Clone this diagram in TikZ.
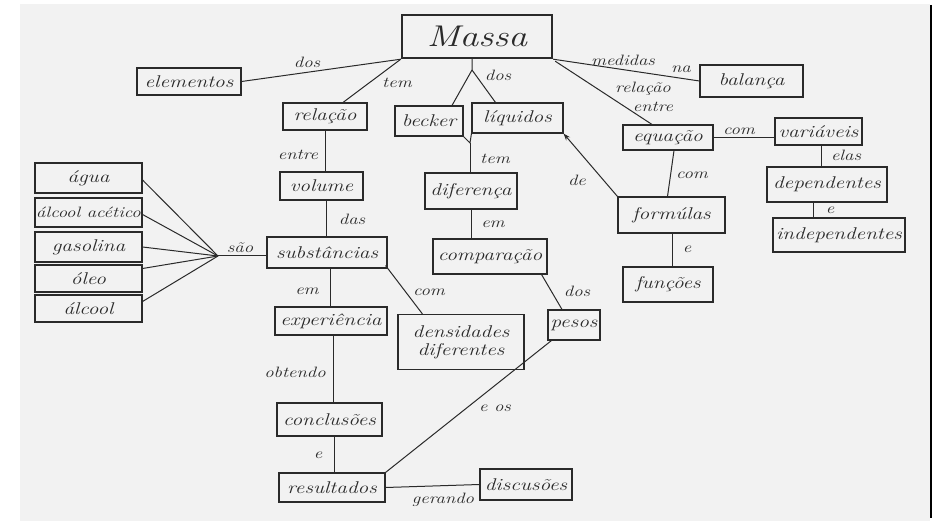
\documentclass[tikz,border=0pt]{standalone}
\usepackage{fontspec}
\setmainfont{Latin Modern Roman}
\newfontfamily\hand{Latin Modern Roman}[FakeStretch=1.25]
\usetikzlibrary{calc,arrows.meta}
\definecolor{ink}{HTML}{2A2A2A}
\definecolor{paper}{HTML}{F2F2F2}

\begin{document}
\begin{tikzpicture}[x=1pt,y=-1pt,
  concept/.style={draw=ink, line width=1.1pt, inner sep=1pt, text=ink, align=center,
    font=\hand\itshape\fontsize{17}{18}\selectfont},
  link/.style={draw=ink, line width=1pt},
  lbl/.style={font=\hand\itshape\fontsize{15}{16}\selectfont, text=ink, inner sep=0pt}]

\useasboundingbox (0,0) rectangle (939,521);
\fill[white] (0,0) rectangle (939,521);
\fill[paper] (20,4) rectangle (930,521);
\draw[black, line width=2.5pt] (931,5) -- (931,518);

% concepts
\node[concept, line width=2.4pt, minimum width=150pt, minimum height=43pt,
  font=\hand\itshape\fontsize{30}{32}\selectfont] (massa) at (477,36.5) {Massa};
\node[concept, minimum width=104pt, minimum height=27pt] (elementos) at (189,81.5) {elementos};
\node[concept, minimum width=84pt, minimum height=27pt] (relacao) at (325,116.5) {relação};
\node[concept, minimum width=68pt, minimum height=30pt] (becker) at (429,121) {becker};
\node[concept, minimum width=91pt, minimum height=30pt] (liquidos) at (517.5,118) {líquidos};
\node[concept, minimum width=103pt, minimum height=32pt] (balanca) at (751.5,81) {balança};
\node[concept, minimum width=90pt, minimum height=25pt] (equacao) at (668,137.5) {equação};
\node[concept, minimum width=87pt, minimum height=27pt] (variaveis) at (818.5,131.5) {variáveis};
\node[concept, minimum width=120pt, minimum height=35pt] (dependentes) at (827,184.5) {dependentes};
\node[concept, minimum width=132pt, minimum height=34pt] (independentes) at (839,235) {independentes};
\node[concept, minimum width=107pt, minimum height=36pt] (formulas) at (671.5,215) {formúlas};
\node[concept, minimum width=90pt, minimum height=35pt] (funcoes) at (668,284.5) {funções};
\node[concept, minimum width=92pt, minimum height=36pt] (diferenca) at (471,191) {diferença};
\node[concept, minimum width=114pt, minimum height=35pt] (comparacao) at (490,256.5) {comparação};
\node[concept, minimum width=126pt, minimum height=55pt] (densidades) at (461,342) {densidades\\diferentes};
\node[concept, minimum width=52pt, minimum height=30pt] (pesos) at (574,325) {pesos};
\node[concept, minimum width=83pt, minimum height=28pt] (volume) at (321.5,186) {volume};
\node[concept, minimum width=120pt, minimum height=31pt] (substancias) at (327,252.5) {substâncias};
\node[concept, minimum width=112pt, minimum height=28pt] (experiencia) at (331,321) {experiência};
\node[concept, minimum width=107pt, minimum height=30pt] (agua) at (88.5,178) {água};
\node[concept, minimum width=107pt, minimum height=29pt,
  font=\hand\itshape\fontsize{15}{16}\selectfont] (acetico) at (88.5,212.5) {álcool acético};
\node[concept, minimum width=107pt, minimum height=30pt] (gasolina) at (88.5,247) {gasolina};
\node[concept, minimum width=107pt, minimum height=27pt] (oleo) at (88.5,278.5) {óleo};
\node[concept, minimum width=107pt, minimum height=27pt] (alcool) at (88.5,308.5) {álcool};
\node[concept, minimum width=105pt, minimum height=33pt] (conclusoes) at (329.5,419.5) {conclusões};
\node[concept, minimum width=106pt, minimum height=29pt] (resultados) at (332,487.5) {resultados};
\node[concept, minimum width=92pt, minimum height=31pt] (discusoes) at (526,484.5) {discusões};

% branch points and connector anchors
\coordinate (forkA) at (472,70);
\coordinate (forkB) at (470,143);
\coordinate (hub) at (218,256);
\path ($(variaveis.south)+(3,0)$) coordinate (vdTop);
\path ($(dependentes.south)+(-14,0)$) coordinate (diTop);
\path ($(formulas.south)+(1,0)$) coordinate (ffTop);
\path ($(volume.south)+(5,0)$) coordinate (vsTop);
\path ($(substancias.south)+(3,0)$) coordinate (seTop);
\path ($(experiencia.south)+(2,0)$) coordinate (ecTop);
\path ($(conclusoes.south)+(5,0)$) coordinate (crTop);

% connectors
\draw[link] (massa.south west) -- (elementos.east);
\draw[link] (massa.south west) -- ($(relacao.north)+(18,0)$);
\draw[link] (massa.south -| forkA) -- (forkA) -- ($(becker.north)+(23,0)$);
\draw[link] (forkA) -- ($(liquidos.north)+(-22,0)$);
\draw[link] (massa.south east) -- (balanca.west);
\draw[link] ($(massa.south east)+(2,2)$) -- ($(equacao.north)+(-16,0)$);
\draw[link] (equacao.east) -- (equacao.east -| variaveis.west);
\draw[link] (vdTop) -- (vdTop |- dependentes.north);
\draw[link] (diTop) -- (diTop |- independentes.north);
\draw[link] ($(equacao.south)+(6,0)$) -- ($(formulas.north)+(-4,0)$);
\draw[link] (ffTop) -- (ffTop |- funcoes.north);
\draw[link, -{Stealth[length=7pt,width=5pt]}] (formulas.north west) -- (liquidos.south east);
\draw[link] (becker.south east) -- (forkB) -- (liquidos.south west);
\draw[link] (forkB) -- (forkB |- diferenca.north);
\draw[link] (diferenca.south) -- (diferenca.south |- comparacao.north);
\draw[link] ($(comparacao.south east)+(-6,0)$) -- ($(pesos.north)+(-12,0)$);
\draw[link] ($(pesos.south west)+(4,0)$) -- (resultados.north east);
\draw[link] (relacao.south) -- (relacao.south |- volume.north);
\draw[link] (vsTop) -- (vsTop |- substancias.north);
\draw[link] (seTop) -- (seTop |- experiencia.north);
\draw[link] ($(substancias.south east)+(-2,-3)$) -- ($(densidades.north west)+(25,0)$);
\draw[link] (ecTop) -- (ecTop |- conclusoes.north);
\draw[link] (crTop) -- (crTop |- resultados.north);
\draw[link] (resultados.east) -- (discusoes.west);
\draw[link] ($(agua.east)+(0,2)$) -- (hub);
\draw[link] ($(acetico.east)+(0,2)$) -- (hub);
\draw[link] (gasolina.east) -- (hub);
\draw[link] ($(oleo.east)+(0,-10)$) -- (hub);
\draw[link] ($(alcool.east)+(0,-7)$) -- (hub);
\draw[link] (hub) -- (hub -| substancias.west);

% linking words
\node[lbl] (l1) at (307,62) {dos};
\node[lbl] (l2) at (397,83) {tem};
\node[lbl] (l3) at (498,75) {dos};
\node[lbl] (l4) at (623,60) {medidas};
\node[lbl] (l5) at (681,69) {na};
\node[lbl] (l6) at (643,89) {relação};
\node[lbl] (l7) at (653,107) {entre};
\node[lbl] (l8) at (739,131) {com};
\node[lbl] (l9) at (846,155) {elas};
\node[lbl] (l10) at (692,175) {com};
\node[lbl] (l11) at (687,249) {e};
\node[lbl] (l12) at (830,210) {e};
\node[lbl] (l13) at (577,180) {de};
\node[lbl] (l14) at (495,159) {tem};
\node[lbl] (l15) at (493,224) {em};
\node[lbl] (l16) at (577,291) {dos};
\node[lbl] (l17) at (429,292) {com};
\node[lbl] (l18) at (495,408) {e os};
\node[lbl] (l19) at (298,155) {entre};
\node[lbl] (l20) at (352,219) {das};
\node[lbl] (l21) at (240,248) {são};
\node[lbl] (l22) at (307,291) {em};
\node[lbl] (l23) at (295,372) {obtendo};
\node[lbl] (l24) at (318,455) {e};
\node[lbl] (l25) at (443,500) {gerando};
\end{tikzpicture}
\end{document}
